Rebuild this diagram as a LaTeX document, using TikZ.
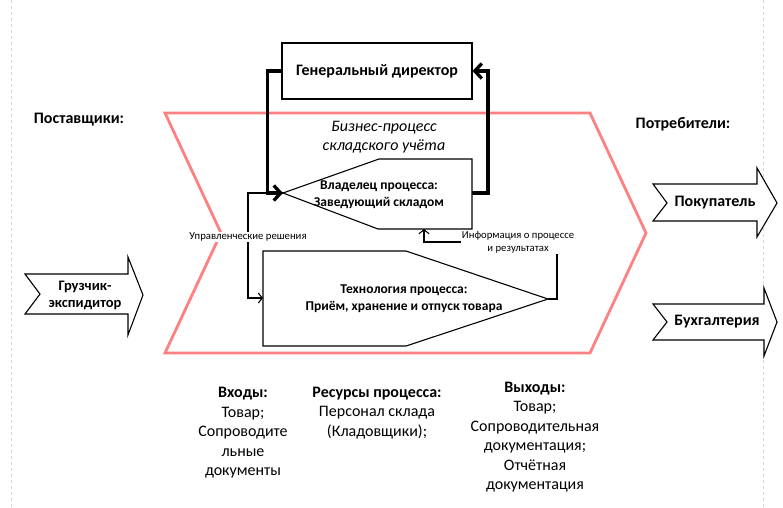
\documentclass[tikz,border=0pt]{standalone}
\usepackage{fontspec}
\setmainfont{Carlito}
\usepackage{xcolor}
\usetikzlibrary{arrows.meta}

\definecolor{pinkred}{RGB}{255,128,128}

\tikzset{
	bigbold/.style={font=\fontsize{16}{19.5}\selectfont\bfseries},
	midbold/.style={font=\fontsize{13.5}{17}\selectfont\bfseries},
	plaintxt/.style={font=\fontsize{16}{19.5}\selectfont},
	smalltxt/.style={font=\fontsize{10.7}{13}\selectfont},
	edge/.style={line width=1.1pt},
	ctrl/.style={line width=3.3pt,-{Straight Barb[length=7pt,width=15pt]}},
	thinarr/.style={edge,-{Straight Barb[length=4pt,width=10pt]}},
	flow/.style={draw,fill=white,edge},
}

\begin{document}
\begin{tikzpicture}[x=1pt,y=-1pt]
	\useasboundingbox (0,0) rectangle (783,507);
	
	% page margins
	\draw[black!15,dashed] (11,0)--(11,507);
	\draw[black!15,dashed] (763,0)--(763,507);
	
	% big process chevron
	\draw[pinkred,line width=2.8pt,line join=miter]
		(165,113)--(590,113)--(646,233)--(590,353)--(165,353)--(221,233)--cycle;
	
	\node[draw,edge,minimum width=190pt,minimum height=56pt,bigbold] (dir) at (377,71) {Генеральный директор};
	\node[font=\fontsize{16}{19.5}\selectfont\itshape,align=center] (bp) at (384,137) {Бизнес-процесс\\складского учёта};
	
	% owner and technology shapes
	\draw[edge] (283,193)--(379,159)--(472,159)--(472,229)--(378,229)--cycle;
	\coordinate (own-w) at (283,193);
	\coordinate (own-e) at (472,193);
	\coordinate (own-s) at (424,229);
	\node[midbold,align=center] (own) at (379,195) {Владелец процесса:\\Заведующий складом};
	
	\draw[edge] (263,251)--(406,251)--(548,299)--(406,346)--(263,346)--cycle;
	\coordinate (tech-w) at (263,298);
	\coordinate (tech-e) at (548,299);
	\node[midbold,align=center] (tech) at (404,299) {Технология процесса:\\Приём, хранение и отпуск товара};
	
	% control loop
	\draw[ctrl] (dir.west) -- ++(-14,0) |- (own-w);
	\draw[ctrl] (own-e) -- ++(16,0) |- (dir.east);
	
	% decisions and feedback
	\draw[thinarr] (own-w) -- ++(-35,0) |- (tech-w);
	\node[smalltxt,fill=white,inner sep=1pt] (lbl-upr) at (248,237) {Управленческие решения};
	\coordinate (info) at (424,242);
	\draw[thinarr] (tech-e) -- ++(9,0) |- (info) -- (own-s);
	\node[smalltxt,fill=white,inner sep=1pt,align=center] (lbl-info) at (518,242) {Информация о процессе\\и результатах};
	
	% suppliers and consumers
	\node[bigbold] (sup) at (79,120) {Поставщики:};
	\node[bigbold] (cons) at (683,124) {Потребители:};
	
	\draw[flow] (25,274)--(128,274)--(128,257)--(143,295)--(128,335)--(128,314)--(25,314)--(40,294)--cycle;
	\node[font=\fontsize{14.5}{17}\selectfont\bfseries,align=center] (loader) at (85,295) {Грузчик-\\экспидитор};
	
	\draw[flow] (653,184)--(757,184)--(757,168)--(777,203)--(757,237)--(757,221)--(653,221)--(667,203)--cycle;
	\node[bigbold] (buyer) at (715,203) {Покупатель};
	
	\draw[flow] (653,304)--(764,304)--(764,288)--(777,322)--(764,356)--(764,340)--(653,340)--(667,322)--cycle;
	\node[bigbold] (acc) at (717,322) {Бухгалтерия};
	
	% inputs, resources, outputs
	\node[plaintxt,align=center] (inputs) at (243,433) {\textbf{Входы:}\\Товар;\\Сопроводите\\льные\\документы};
	\node[plaintxt,align=center] (res) at (377,413) {\textbf{Ресурсы процесса:}\\Персонал склада\\(Кладовщики);};
	\node[plaintxt,align=center] (outputs) at (535,437) {\textbf{Выходы:}\\Товар;\\Сопроводительная\\документация;\\Отчётная\\документация};
\end{tikzpicture}
\end{document}
